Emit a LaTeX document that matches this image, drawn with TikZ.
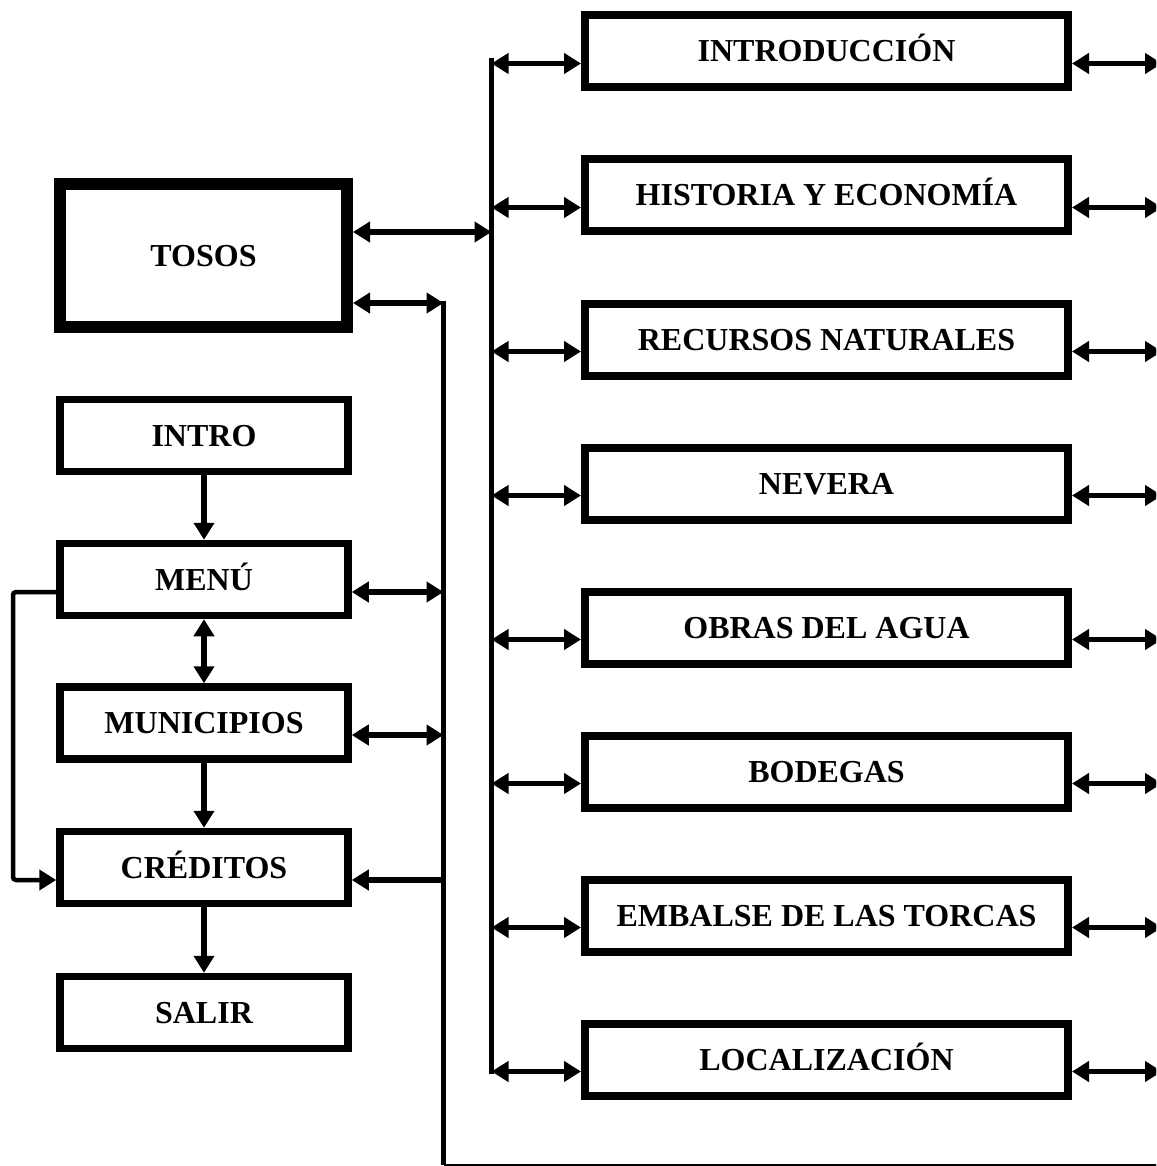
\documentclass[tikz,border=0pt]{standalone}
\usepackage{fontspec}
\setmainfont{Liberation Serif}
\usetikzlibrary{arrows.meta}

\begin{document}
\begin{tikzpicture}[x=1pt, y=-1pt,
    box/.style={draw, line width=7.5pt, minimum width=288pt, minimum height=72pt, inner sep=0pt,
        font=\fontsize{32}{38}\selectfont\bfseries, text height=21pt, text depth=0pt},
    wide/.style={box, line width=8pt, minimum width=483pt},
    link/.style={line width=5.5pt},
    tip/.style={-{Triangle[length=17pt,width=20pt]}},
    both/.style={{Triangle[length=17pt,width=20pt]}-{Triangle[length=17pt,width=20pt]}}]
    \clip (0,0) rectangle (1156,1166);
    \fill[white] (0,0) rectangle (1156,1166);

    \node[box, line width=12pt, minimum width=287pt, minimum height=143pt] (tosos) at (203.5,255.5) {TOSOS};
    \node[box] (intro) at (204,435.5) {INTRO};
    \node[box] (menu) at (204,579.5) {MENÚ};
    \node[box] (muni) at (204,723) {MUNICIPIOS};
    \node[box] (cred) at (204,867.5) {CRÉDITOS};
    \node[box] (salir) at (204,1012.5) {SALIR};

    \node[wide] (introd) at (826.5,51.5) {INTRODUCCIÓN};
    \node[wide] (historia) at (826.5,195.5) {HISTORIA Y ECONOMÍA};
    \node[wide] (recursos) at (826.5,339.5) {RECURSOS NATURALES};
    \node[wide] (nevera) at (826.5,483.5) {NEVERA};
    \node[wide] (obras) at (826.5,627.5) {OBRAS DEL AGUA};
    \node[wide] (bodegas) at (826.5,771.5) {BODEGAS};
    \node[wide] (embalse) at (826.5,915.5) {EMBALSE DE LAS TORCAS};
    \node[wide] (local) at (826.5,1059.5) {LOCALIZACIÓN};

    \coordinate (bus) at (491.5,58);
    \coordinate (busend) at (491.5,1074);
    \coordinate (back) at (443.5,300.5);
    \coordinate (backend) at (443.5,1165);
    \coordinate (rim) at (1162,1165);
    \coordinate (loop) at (13,880);

    \draw[link] (bus) -- (busend);
    \draw[link] (back) -- (backend);
    \draw[line width=2pt] (backend) -- (rim);

    \draw[link, both] ([yshift=23.5pt]tosos.east) -- ([yshift=23.5pt]tosos.east -| bus);
    \draw[link, both] ([yshift=-47.5pt]tosos.east) -- ([yshift=-47.5pt]tosos.east -| back);
    \draw[link, both] ([yshift=-12.5pt]menu.east) -- ([yshift=-12.5pt]menu.east -| back);
    \draw[link, both] ([yshift=-12pt]muni.east) -- ([yshift=-12pt]muni.east -| back);
    \draw[link, tip] ([yshift=-12.5pt]cred.east -| back) -- ([yshift=-12.5pt]cred.east);

    \draw[link, tip] (intro) -- (menu);
    \draw[link, both] (menu) -- (muni);
    \draw[link, tip] (muni) -- (cred);
    \draw[link, tip] (cred) -- (salir);
    \draw[line width=4.5pt, tip, rounded corners=3pt] ([yshift=-12.5pt]menu.west) -| (loop) -- ([yshift=-12.5pt]cred.west);

    \draw[link, both] ([yshift=-12pt]introd.west -| bus) -- ([yshift=-12pt]introd.west);
    \draw[link, both] ([yshift=-12pt]historia.west -| bus) -- ([yshift=-12pt]historia.west);
    \draw[link, both] ([yshift=-12pt]recursos.west -| bus) -- ([yshift=-12pt]recursos.west);
    \draw[link, both] ([yshift=-12pt]nevera.west -| bus) -- ([yshift=-12pt]nevera.west);
    \draw[link, both] ([yshift=-12pt]obras.west -| bus) -- ([yshift=-12pt]obras.west);
    \draw[link, both] ([yshift=-12pt]bodegas.west -| bus) -- ([yshift=-12pt]bodegas.west);
    \draw[link, both] ([yshift=-12pt]embalse.west -| bus) -- ([yshift=-12pt]embalse.west);
    \draw[link, both] ([yshift=-12pt]local.west -| bus) -- ([yshift=-12pt]local.west);

    \draw[link, both] ([yshift=-12pt]introd.east) -- ([yshift=-12pt]introd.east -| rim);
    \draw[link, both] ([yshift=-12pt]historia.east) -- ([yshift=-12pt]historia.east -| rim);
    \draw[link, both] ([yshift=-12pt]recursos.east) -- ([yshift=-12pt]recursos.east -| rim);
    \draw[link, both] ([yshift=-12pt]nevera.east) -- ([yshift=-12pt]nevera.east -| rim);
    \draw[link, both] ([yshift=-12pt]obras.east) -- ([yshift=-12pt]obras.east -| rim);
    \draw[link, both] ([yshift=-12pt]bodegas.east) -- ([yshift=-12pt]bodegas.east -| rim);
    \draw[link, both] ([yshift=-12pt]embalse.east) -- ([yshift=-12pt]embalse.east -| rim);
    \draw[link, both] ([yshift=-12pt]local.east) -- ([yshift=-12pt]local.east -| rim);
\end{tikzpicture}
\end{document}
